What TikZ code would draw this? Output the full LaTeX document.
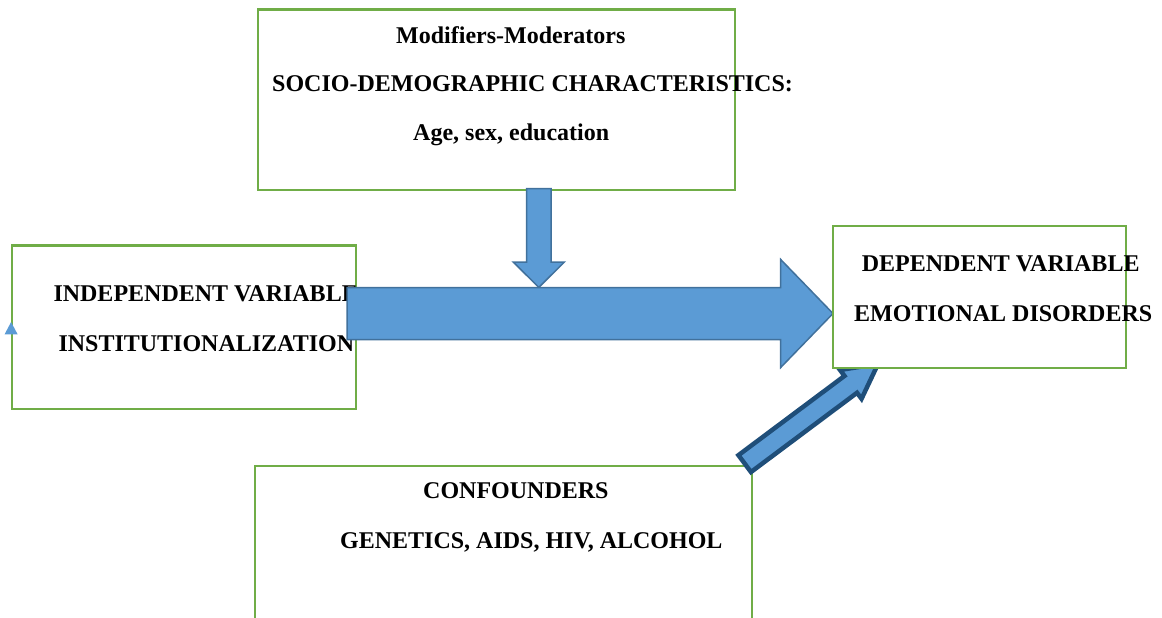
\documentclass[tikz,border=0pt]{standalone}
\usepackage{fontspec}
\setmainfont{Liberation Serif}
\usepackage{tikz}
\usetikzlibrary{positioning}
\usetikzlibrary{calc}
\definecolor{boxgreen}{RGB}{112,173,71}
\definecolor{arrowblue}{RGB}{91,155,213}
\definecolor{arrowedge}{RGB}{65,113,156}
\definecolor{darkedge}{RGB}{31,78,121}
\tikzset{
  varbox/.style={draw=boxgreen, line width=2.8pt, fill=white, inner sep=0pt},
  varlabel/.style={font=\bfseries\fontsize{24}{28}\selectfont, inner sep=0pt, anchor=base west},
  flatarrow/.style={fill=arrowblue, draw=arrowedge, line width=1.5pt, line join=miter},
  boldarrow/.style={fill=arrowblue, draw=darkedge, line width=4.5pt, line join=miter}
}

\begin{document}
\begin{tikzpicture}[x=1pt,y=-1pt]
\clip (0,0) rectangle (1162,618);
\node[varbox, minimum width=477, minimum height=180.5] (mod) at (496.5,99.75) {};
\node[varbox, minimum width=344, minimum height=163.3] (indep) at (184,327.3) {};
\node[varbox, minimum width=497, minimum height=180] (conf) at (503.5,556) {};

\node[varlabel] (modTitle) at (396,43.3) {Modifiers-Moderators};
\node[varlabel] (modLine) at (272,92) {SOCIO-DEMOGRAPHIC CHARACTERISTICS:};
\node[varlabel] (modList) at (413,140) {Age, sex, education};
\node[varlabel] (indepTitle) at (53.3,301.7) {INDEPENDENT VARIABLE};
\node[varlabel] (indepName) at (58.3,351.7) {INSTITUTIONALIZATION};
\node[varlabel] (confTitle) at (423,498.3) {CONFOUNDERS};
\node[varlabel] (confList) at (340,548.3) {GENETICS, AIDS, HIV, ALCOHOL};

\coordinate (dTail) at ($(mod.south)+(42.3,-2.7)$);
\coordinate (dTip) at ($(mod.south)+(42.3,96)$);
\coordinate (dBase) at ($(dTip)!25.3pt!(dTail)$);
\draw[flatarrow] ($(dTail)!12.2pt!90:(dTip)$) -- ($(dBase)!12.2pt!90:(dTip)$)
  -- ($(dBase)!25.5pt!90:(dTip)$) -- (dTip) -- ($(dBase)!25.5pt!-90:(dTip)$)
  -- ($(dBase)!12.2pt!-90:(dTip)$) -- ($(dTail)!12.2pt!-90:(dTip)$) -- cycle;

\coordinate (hTail) at ($(indep.east)+(-10.3,-13.8)$);
\coordinate (hTip) at (833,313.5);
\coordinate (hBase) at ($(hTip)!52.3pt!(hTail)$);
\draw[flatarrow] ($(hTail)!26pt!90:(hTip)$) -- ($(hBase)!26pt!90:(hTip)$)
  -- ($(hBase)!54pt!90:(hTip)$) -- (hTip) -- ($(hBase)!54pt!-90:(hTip)$)
  -- ($(hBase)!26pt!-90:(hTip)$) -- ($(hTail)!26pt!-90:(hTip)$) -- cycle;

\coordinate (cTail) at ($(conf.north east)+(-8.7,-1)$);
\coordinate (cTip) at (878,364);
\coordinate (cBase) at ($(cTip)!34pt!(cTail)$);
\draw[boldarrow] ($(cTail)!10.5pt!90:(cTip)$) -- ($(cBase)!10.5pt!90:(cTip)$)
  -- ($(cBase)!18pt!90:(cTip)$) -- (cTip) -- ($(cBase)!18pt!-90:(cTip)$)
  -- ($(cBase)!10.5pt!-90:(cTip)$) -- ($(cTail)!10.5pt!-90:(cTip)$) -- cycle;

\node[varbox, minimum width=293, minimum height=142] (dep) at (979.5,297) {};
\node[varlabel] (depTitle) at (861.7,271.7) {DEPENDENT VARIABLE};
\node[varlabel] (depName) at (854,321.7) {EMOTIONAL DISORDERS};

\fill[arrowblue] ($(indep.west)+(-6,7)$) -- ($(indep.west)+(7,7)$) -- ($(indep.west)+(0.5,-5.3)$) -- cycle;
\end{tikzpicture}
\end{document}
